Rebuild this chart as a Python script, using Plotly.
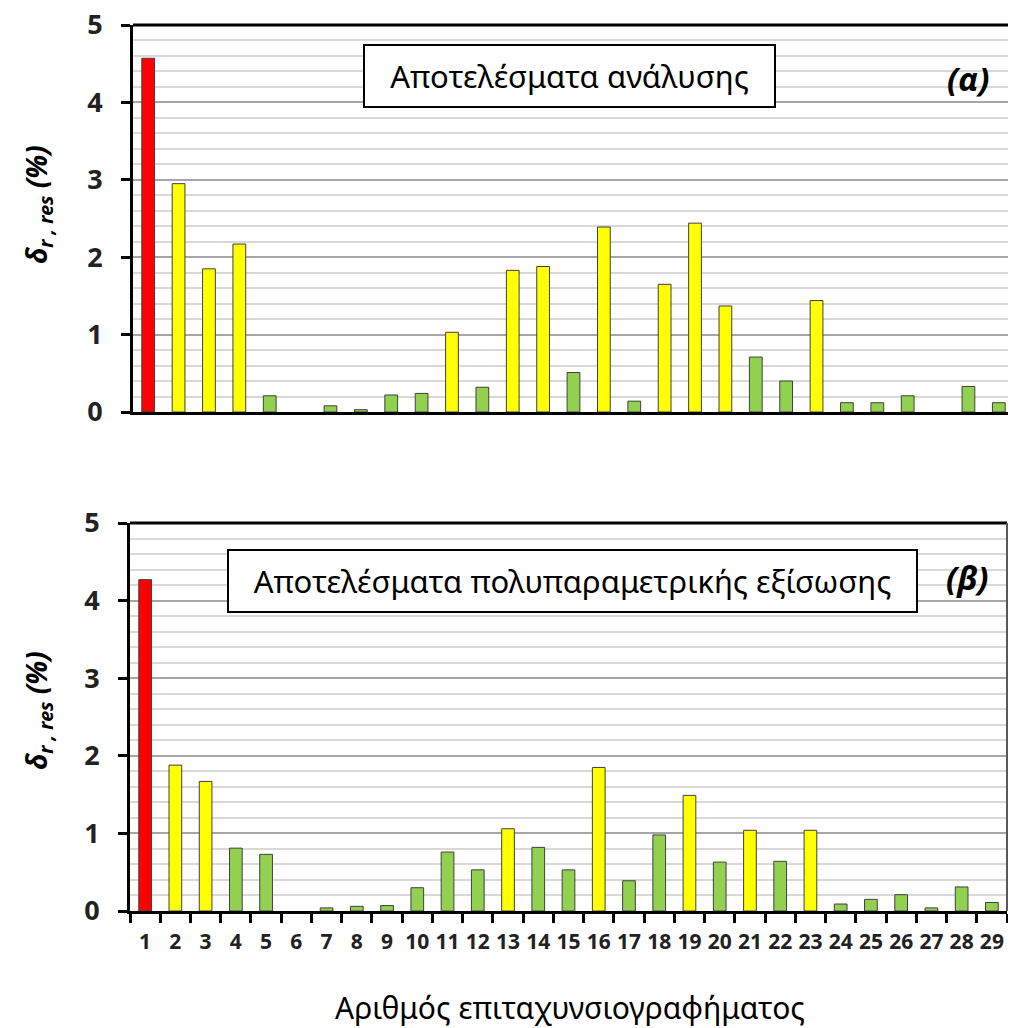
import plotly.graph_objects as go

categories = [str(i) for i in range(1, 30)]

# Panel (α): analysis results
values_a = [4.57, 2.95, 1.85, 2.17, 0.21, 0.0, 0.08, 0.03, 0.22, 0.24,
            1.03, 0.32, 1.83, 1.88, 0.51, 2.39, 0.14, 1.65, 2.44, 1.37,
            0.71, 0.40, 1.44, 0.12, 0.12, 0.21, 0.0, 0.33, 0.12]
class_a = ["r", "y", "y", "y", "g", "g", "g", "g", "g", "g",
           "y", "g", "y", "y", "g", "y", "g", "y", "y", "y",
           "g", "g", "y", "g", "g", "g", "g", "g", "g"]

# Panel (β): multiparametric equation results
values_b = [4.27, 1.88, 1.67, 0.81, 0.73, 0.0, 0.04, 0.06, 0.07, 0.30,
            0.76, 0.53, 1.06, 0.82, 0.53, 1.85, 0.39, 0.98, 1.49, 0.63,
            1.04, 0.64, 1.04, 0.09, 0.15, 0.21, 0.04, 0.31, 0.11]
class_b = ["r", "y", "y", "g", "g", "g", "g", "g", "g", "g",
           "g", "g", "y", "g", "g", "y", "g", "g", "y", "g",
           "y", "g", "y", "g", "g", "g", "g", "g", "g"]

y_ticks = [0, 1, 2, 3, 4, 5]
label_a = "Αποτελέσματα ανάλυσης"
label_b = "Αποτελέσματα πολυπαραμετρικής εξίσωσης"
tag_a = "(α)"
tag_b = "(β)"
x_title = "Αριθμός επιταχυνσιογραφήματος"
y_title = "<b><i>δ<sub>r , res</sub> (%)</i></b>"

COLORS = {"r": "#ff0000", "y": "#ffff00", "g": "#92d050"}
FONT = "Noto Sans"

# The page body adds an 8px margin; work in window pixels and subtract it.
OFF = 8
W, H = 1016 - OFF, 1028 - OFF
ML, MR, MT, MB = 129 - OFF, 0, 25 - OFF, H - (911 - OFF)
PW = W - ML - MR
PH = H - MT - MB


def px_x(p):
    return (p - OFF - ML) / PW


def px_y(p):
    return (H - MB - (p - OFF)) / PH


def line_widths(vals):
    return [0 if v == 0 else 1 for v in vals]


fig = go.Figure()
fig.add_trace(go.Bar(x=categories, y=values_a, xaxis="x", yaxis="y",
                     marker=dict(color=[COLORS[c] for c in class_a],
                                 line=dict(color="#404040",
                                           width=line_widths(values_a))),
                     showlegend=False))
fig.add_trace(go.Bar(x=categories, y=values_b, xaxis="x2", yaxis="y2",
                     marker=dict(color=[COLORS[c] for c in class_b],
                                 line=dict(color="#404040",
                                           width=line_widths(values_b))),
                     showlegend=False))

yaxis_common = dict(
    range=[0, 5], tickvals=y_ticks, ticks="outside", ticklen=9, tickwidth=3,
    tickcolor="black", showline=True, linecolor="black", linewidth=3,
    showgrid=True, gridcolor="#a6a6a6", gridwidth=2,
    minor=dict(dtick=0.2, showgrid=True, gridcolor="#d9d9d9", gridwidth=2),
    tickfont=dict(family=FONT, size=27, color="#222", weight="bold"),
    ticklabelstandoff=13, ticklabeloverflow="allow",
    zeroline=False, fixedrange=True,
)

fig.update_layout(
    width=W, height=H,
    margin=dict(l=ML, r=MR, t=MT, b=MB, autoexpand=False),
    paper_bgcolor="white", plot_bgcolor="white",
    bargap=0.58,
    xaxis=dict(domain=[px_x(133), px_x(1014)], anchor="y",
               showticklabels=False, ticks="", showline=True,
               linecolor="black", linewidth=3, showgrid=False),
    yaxis=dict(domain=[px_y(412), px_y(25)], anchor="x", **yaxis_common),
    xaxis2=dict(domain=[px_x(130), px_x(1007)], anchor="y2",
                showline=True, linecolor="black", linewidth=3, showgrid=False,
                ticks="outside", tickson="boundaries", ticklen=9, tickwidth=3,
                tickcolor="black", tickangle=0,
                tickfont=dict(family=FONT, size=21, color="#222", weight="bold"),
                ticklabelstandoff=10),
    yaxis2=dict(domain=[px_y(911), px_y(523)], anchor="x2", **yaxis_common),
    font=dict(family=FONT, color="black"),
)

# Frame lines (top and right)
for xr, yr in (("x", "y"), ("x2", "y2")):
    fig.add_shape(type="line", xref=f"{xr} domain", yref=f"{yr} domain",
                  x0=0, x1=1, y0=1, y1=1, line=dict(color="black", width=3))
    fig.add_shape(type="line", xref=f"{xr} domain", yref=f"{yr} domain",
                  x0=1, x1=1, y0=0, y1=1, line=dict(color="#595959", width=2))

annots = [
    dict(text=label_a, x=px_x(569.5), y=px_y(76), width=405, height=56,
         font=dict(family=FONT, size=31, color="black"),
         bordercolor="black", borderwidth=2, borderpad=2, bgcolor="white"),
    dict(text=label_b, x=px_x(572.5), y=px_y(581), width=683, height=56,
         font=dict(family=FONT, size=31, color="black"),
         bordercolor="black", borderwidth=2, borderpad=2, bgcolor="white"),
    dict(text=f"<b><i>{tag_a}</i></b>", x=px_x(968), y=px_y(79),
         font=dict(family=FONT, size=33, color="black")),
    dict(text=f"<b><i>{tag_b}</i></b>", x=px_x(967), y=px_y(578),
         font=dict(family=FONT, size=33, color="black")),
    dict(text=y_title, x=px_x(38), y=px_y(205), textangle=-90,
         font=dict(family=FONT, size=28, color="black")),
    dict(text=y_title, x=px_x(38), y=px_y(711), textangle=-90,
         font=dict(family=FONT, size=28, color="black")),
    dict(text=x_title, x=px_x(570), y=px_y(1007),
         font=dict(family=FONT, size=30, color="black")),
]
for a in annots:
    fig.add_annotation(xref="paper", yref="paper", showarrow=False,
                       xanchor="center", yanchor="middle", **a)

fig.write_html("out.html")
